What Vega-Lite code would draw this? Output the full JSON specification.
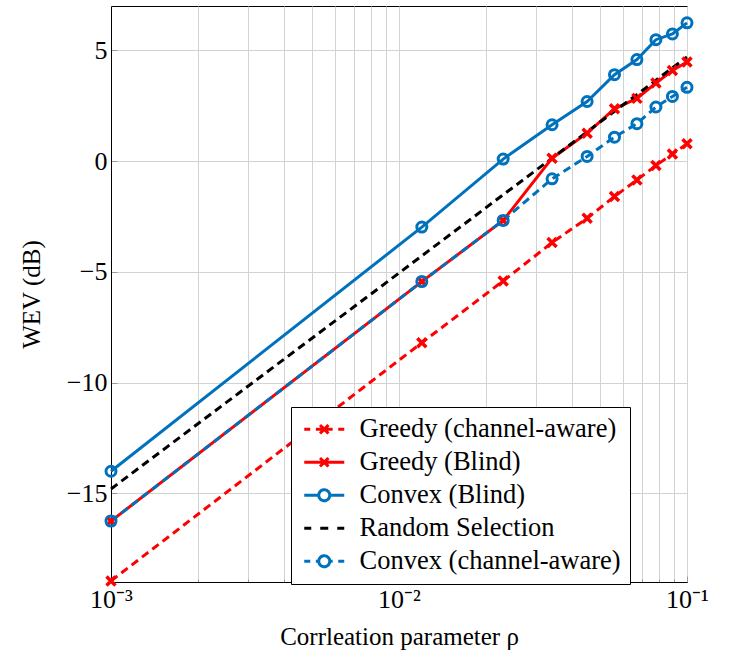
{
  "$schema": "https://vega.github.io/schema/vega-lite/v6.json",
  "autosize": "none",
  "width": 576,
  "height": 576,
  "padding": {"left": 111, "top": 6, "right": 56, "bottom": 76},
  "config": {
    "font": "Liberation Serif",
    "view": {"stroke": "black", "strokeWidth": 1},
    "axis": {"labelFont": "Liberation Serif", "titleFont": "Liberation Serif", "labelFontSize": 26, "titleFontSize": 25, "titleFontWeight": "normal", "labelColor": "black", "titleColor": "black", "domainColor": "black", "gridColor": "#d3d3d3", "gridWidth": 1, "tickColor": "#9a9a9a"},
    "legend": {"labelFont": "Liberation Serif"}
  },
  "data": {"values": [
    {"series": "Greedy (channel-aware)", "rho": 0.001, "wev": -18.95},
    {"series": "Greedy (channel-aware)", "rho": 0.012, "wev": -8.2},
    {"series": "Greedy (channel-aware)", "rho": 0.023, "wev": -5.41},
    {"series": "Greedy (channel-aware)", "rho": 0.034, "wev": -3.68},
    {"series": "Greedy (channel-aware)", "rho": 0.045, "wev": -2.58},
    {"series": "Greedy (channel-aware)", "rho": 0.056, "wev": -1.6},
    {"series": "Greedy (channel-aware)", "rho": 0.067, "wev": -0.85},
    {"series": "Greedy (channel-aware)", "rho": 0.078, "wev": -0.2},
    {"series": "Greedy (channel-aware)", "rho": 0.089, "wev": 0.32},
    {"series": "Greedy (channel-aware)", "rho": 0.1, "wev": 0.78},
    {"series": "Greedy (Blind)", "rho": 0.001, "wev": -16.25},
    {"series": "Greedy (Blind)", "rho": 0.012, "wev": -5.44},
    {"series": "Greedy (Blind)", "rho": 0.023, "wev": -2.68},
    {"series": "Greedy (Blind)", "rho": 0.034, "wev": 0.13},
    {"series": "Greedy (Blind)", "rho": 0.045, "wev": 1.26},
    {"series": "Greedy (Blind)", "rho": 0.056, "wev": 2.36},
    {"series": "Greedy (Blind)", "rho": 0.067, "wev": 2.83},
    {"series": "Greedy (Blind)", "rho": 0.078, "wev": 3.52},
    {"series": "Greedy (Blind)", "rho": 0.089, "wev": 4.09},
    {"series": "Greedy (Blind)", "rho": 0.1, "wev": 4.47},
    {"series": "Convex (Blind)", "rho": 0.001, "wev": -14.0},
    {"series": "Convex (Blind)", "rho": 0.012, "wev": -2.98},
    {"series": "Convex (Blind)", "rho": 0.023, "wev": 0.09},
    {"series": "Convex (Blind)", "rho": 0.034, "wev": 1.64},
    {"series": "Convex (Blind)", "rho": 0.045, "wev": 2.69},
    {"series": "Convex (Blind)", "rho": 0.056, "wev": 3.9},
    {"series": "Convex (Blind)", "rho": 0.067, "wev": 4.58},
    {"series": "Convex (Blind)", "rho": 0.078, "wev": 5.48},
    {"series": "Convex (Blind)", "rho": 0.089, "wev": 5.74},
    {"series": "Convex (Blind)", "rho": 0.1, "wev": 6.24},
    {"series": "Random Selection", "rho": 0.001, "wev": -14.8},
    {"series": "Random Selection", "rho": 0.012, "wev": -4.28},
    {"series": "Random Selection", "rho": 0.023, "wev": -1.52},
    {"series": "Random Selection", "rho": 0.034, "wev": 0.13},
    {"series": "Random Selection", "rho": 0.045, "wev": 1.32},
    {"series": "Random Selection", "rho": 0.056, "wev": 2.25},
    {"series": "Random Selection", "rho": 0.067, "wev": 3.0},
    {"series": "Random Selection", "rho": 0.078, "wev": 3.65},
    {"series": "Random Selection", "rho": 0.089, "wev": 4.21},
    {"series": "Random Selection", "rho": 0.1, "wev": 4.7},
    {"series": "Convex (channel-aware)", "rho": 0.001, "wev": -16.25},
    {"series": "Convex (channel-aware)", "rho": 0.012, "wev": -5.44},
    {"series": "Convex (channel-aware)", "rho": 0.023, "wev": -2.68},
    {"series": "Convex (channel-aware)", "rho": 0.034, "wev": -0.8},
    {"series": "Convex (channel-aware)", "rho": 0.045, "wev": 0.21},
    {"series": "Convex (channel-aware)", "rho": 0.056, "wev": 1.08},
    {"series": "Convex (channel-aware)", "rho": 0.067, "wev": 1.69},
    {"series": "Convex (channel-aware)", "rho": 0.078, "wev": 2.44},
    {"series": "Convex (channel-aware)", "rho": 0.089, "wev": 2.92},
    {"series": "Convex (channel-aware)", "rho": 0.1, "wev": 3.33}
  ]},
  "encoding": {
    "x": {
      "field": "rho", "type": "quantitative",
      "scale": {"type": "log", "domain": [0.001, 0.1], "nice": false},
      "axis": {
        "title": "Corrleation parameter ρ",
        "values": [0.001, 0.002, 0.003, 0.004, 0.005, 0.006, 0.007, 0.008, 0.009, 0.01, 0.02, 0.03, 0.04, 0.05, 0.06, 0.07, 0.08, 0.09, 0.1],
        "labelExpr": "datum.value == 0.001 ? '10⁻³' : datum.value == 0.01 ? '10⁻²' : datum.value == 0.1 ? '10⁻¹' : ''",
        "labelFlush": false, "labelOverlap": false, "labelPadding": 10,
        "grid": true,
        "tickSize": {"condition": {"test": "datum.value == 0.001 || datum.value == 0.01 || datum.value == 0.1", "value": -6}, "value": -3},
        "titlePadding": 9
      }
    },
    "y": {
      "field": "wev", "type": "quantitative",
      "scale": {"domain": [-19, 7], "nice": false, "zero": false},
      "axis": {
        "title": "WEV (dB)",
        "values": [-15, -10, -5, 0, 5],
        "labelExpr": "replace(datum.label, '-', '−')",
        "grid": true, "tickSize": -6, "labelPadding": 10, "titlePadding": 22
      }
    },
    "color": {
      "field": "series", "type": "nominal",
      "scale": {
        "domain": ["Greedy (channel-aware)", "Greedy (Blind)", "Convex (Blind)", "Random Selection", "Convex (channel-aware)"],
        "range": ["#ff0000", "#ff0000", "#0072bd", "#000000", "#0072bd"]
      },
      "legend": {
        "title": null, "orient": "none", "legendX": 180, "legendY": 401,
        "fillColor": "white", "strokeColor": "black", "padding": 9,
        "labelFont": "Liberation Serif", "labelFontSize": 26.5, "labelColor": "black", "labelLimit": 0,
        "symbolSize": 400, "symbolStrokeWidth": 3, "symbolOpacity": 1, "symbolFillColor": "transparent", "symbolDash": [1, 0],
        "symbolOffset": 11, "labelOffset": 22, "rowPadding": 6,
        "encode": {"symbols": {"update": {"opacity": {"value": 1}, "fill": {"value": "transparent"}, "strokeDash": {"value": [1, 0]}}}}
      }
    }
  },
  "layer": [
    {
      "transform": [{"filter": {"field": "series", "oneOf": ["Greedy (Blind)", "Convex (Blind)"]}}],
      "mark": {"type": "line", "strokeWidth": 3}
    },
    {
      "transform": [{"filter": {"field": "series", "oneOf": ["Greedy (channel-aware)", "Random Selection", "Convex (channel-aware)"]}}],
      "mark": {"type": "line", "strokeWidth": 3, "strokeDash": [8, 5]}
    },
    {
      "transform": [{"filter": {"field": "series", "oneOf": ["Greedy (channel-aware)", "Greedy (Blind)"]}}],
      "mark": {"type": "point", "shape": "M-1,-1L1,1M-1,1L1,-1", "filled": false, "size": 81, "strokeWidth": 3.5, "opacity": 1}
    },
    {
      "transform": [{"filter": {"field": "series", "oneOf": ["Convex (Blind)", "Convex (channel-aware)"]}}],
      "mark": {"type": "point", "shape": "circle", "filled": false, "size": 100, "strokeWidth": 3, "opacity": 1}
    },
    {
      "mark": {"type": "point", "filled": false, "opacity": 0},
      "encoding": {
        "shape": {
          "field": "series", "type": "nominal",
          "scale": {
            "domain": ["Greedy (channel-aware)", "Greedy (Blind)", "Convex (Blind)", "Random Selection", "Convex (channel-aware)"],
            "range": [
              "M-2,0H-1.4M-0.84,0H0.84M1.4,0H2M-0.42,-0.42L0.42,0.42M-0.42,0.42L0.42,-0.42",
              "M-2,0H2M-0.42,-0.42L0.42,0.42M-0.42,0.42L0.42,-0.42",
              "M-2,0H-0.55M0.55,0H2M0.55,0A0.55,0.55 0 1,1 -0.55,0A0.55,0.55 0 1,1 0.55,0",
              "M-2,0H-1.3M-0.4,0H0.4M1.3,0H2",
              "M-2,0H-1.4M-0.84,0H-0.55M0.55,0H0.84M1.4,0H2M0.55,0A0.55,0.55 0 1,1 -0.55,0A0.55,0.55 0 1,1 0.55,0"
            ]
          },
          "legend": {"title": null}
        }
      }
    }
  ]
}
